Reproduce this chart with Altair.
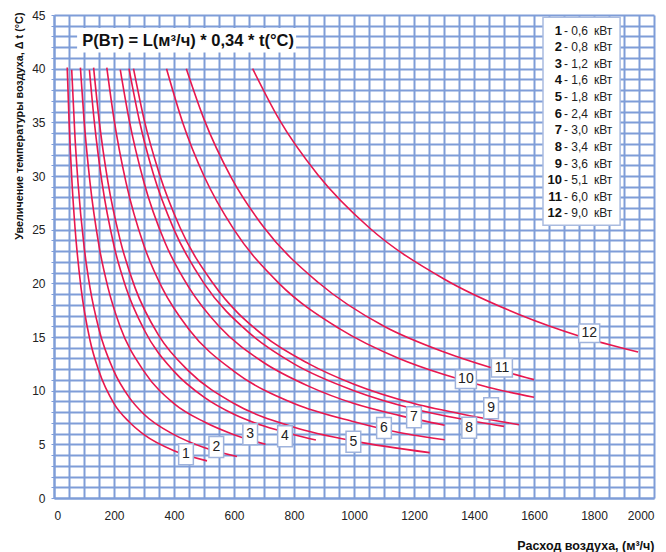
import altair as alt
import pandas as pd

# ---- data ----
curve_ids = [1, 2, 3, 4, 5, 6, 7, 8, 9, 10, 11, 12]
power_kw = ["0,6", "0,8", "1,2", "1,6", "1,8", "2,4", "3,0", "3,4", "3,6", "5,1", "6,0", "9,0"]

# air flow L (m3/h) and temperature rise t (°C)
c1_L = [44, 50, 60, 70, 90, 120, 150, 200, 250, 300, 400, 510]
c1_t = [40.1, 35.3, 29.4, 25.2, 19.6, 14.7, 11.8, 8.8, 7.1, 5.9, 4.4, 3.46]
c2_L = [59, 70, 80, 100, 120, 150, 200, 250, 300, 400, 500, 610]
c2_t = [39.9, 33.6, 29.4, 23.5, 19.6, 15.7, 11.8, 9.4, 7.8, 5.9, 4.7, 3.86]
c3_L = [88, 100, 120, 150, 180, 220, 300, 400, 500, 600, 705]
c3_t = [40.1, 35.3, 29.4, 23.5, 19.6, 16.0, 11.8, 8.8, 7.1, 5.9, 5.0]
c4_L = [118, 135, 160, 200, 240, 300, 400, 500, 600, 700, 800, 873]
c4_t = [39.9, 34.9, 29.4, 23.5, 19.6, 15.7, 11.8, 9.4, 7.8, 6.7, 5.9, 5.4]
c5_L = [132, 150, 180, 220, 270, 350, 450, 600, 800, 1000, 1252]
c5_t = [40.1, 35.3, 29.4, 24.1, 19.6, 15.1, 11.8, 8.8, 6.6, 5.3, 4.23]
c6_L = [176, 200, 240, 300, 360, 450, 600, 800, 1000, 1150, 1302]
c6_t = [40.1, 35.3, 29.4, 23.5, 19.6, 15.7, 11.8, 8.8, 7.1, 6.1, 5.42]
c7_L = [221, 250, 300, 370, 450, 550, 700, 850, 1000, 1150, 1302]
c7_t = [39.9, 35.3, 29.4, 23.8, 19.6, 16.0, 12.6, 10.4, 8.8, 7.7, 6.78]
c8_L = [250, 285, 330, 400, 500, 650, 800, 1000, 1200, 1350, 1500]
c8_t = [40.0, 35.1, 30.3, 25.0, 20.0, 15.4, 12.5, 10.0, 8.3, 7.4, 6.67]
c9_L = [265, 300, 350, 420, 530, 700, 850, 1000, 1200, 1400, 1550]
c9_t = [40.0, 35.3, 30.3, 25.2, 20.0, 15.1, 12.5, 10.6, 8.8, 7.6, 6.83]
c10_L = [375, 430, 500, 600, 750, 950, 1150, 1300, 1450, 1600]
c10_t = [40.0, 34.9, 30.0, 25.0, 20.0, 15.8, 13.0, 11.5, 10.3, 9.38]
c11_L = [441, 500, 590, 700, 880, 1100, 1300, 1450, 1600]
c11_t = [40.0, 35.3, 29.9, 25.2, 20.1, 16.0, 13.6, 12.2, 11.03]
c12_L = [662, 750, 880, 1050, 1300, 1550, 1750, 1947]
c12_t = [40.0, 35.3, 30.1, 25.2, 20.4, 17.1, 15.1, 13.6]

# curve number labels (position on chart, data units)
label_L = [440, 541, 654, 770, 998, 1100, 1200, 1384, 1457, 1373, 1493, 1784]
label_t = [4.07, 4.75, 5.94, 5.75, 5.25, 6.52, 7.52, 6.55, 8.36, 11.06, 12.14, 15.35]

formula_text = "P(Вт) = L(м³/ч) * 0,34 * t(°C)"
x_title = "Расход воздуха, (м³/ч)"
y_title = "Увеличение температуры воздуха,  Δ t (°C)"

# ---- build tables ----
all_L = [c1_L, c2_L, c3_L, c4_L, c5_L, c6_L, c7_L, c8_L, c9_L, c10_L, c11_L, c12_L]
all_t = [c1_t, c2_t, c3_t, c4_t, c5_t, c6_t, c7_t, c8_t, c9_t, c10_t, c11_t, c12_t]
rows = []
for cid, Ls, ts in zip(curve_ids, all_L, all_t):
    for L, t in zip(Ls, ts):
        rows.append({"curve": cid, "L": L, "t": t})
curves_df = pd.DataFrame(rows)

labels_df = pd.DataFrame({
    "curve": [str(c) for c in curve_ids],
    "L": label_L,
    "t": label_t,
    "wide": ["w" if c >= 10 else "n" for c in curve_ids],
})

legend_df = pd.DataFrame({
    "num": [str(c) for c in curve_ids],
    "val": ["- " + p for p in power_kw],
    "unit": ["кВт"] * len(curve_ids),
    "row": list(range(len(curve_ids))),
})
legend_df["ty"] = 43.54 - 1.547 * legend_df["row"]
legend_df["xn"] = 1693
legend_df["xv"] = 1700
legend_df["xu"] = 1800

formula_df = pd.DataFrame({"x": [77], "x2": [807], "y": [43.8], "y2": [41.5],
                           "tx": [447], "ty": [42.6], "txt": [formula_text]})
legbox_df = pd.DataFrame({"x": [1630], "x2": [1887], "y": [44.8], "y2": [25.4]})

GRID = "#7f9dd8"
LINE = "#e8174e"
FONT = "Liberation Sans Narrow, Liberation Sans, Arial, sans-serif"

xs = alt.Scale(domain=[0, 2000], nice=False, zero=False)
ys = alt.Scale(domain=[0, 45], nice=False, zero=False)

x_axis = alt.Axis(
    values=list(range(0, 2001, 50)),
    labelExpr="datum.value % 200 == 0 ? datum.label : ''",
    format="d", labelOverlap=False,
    grid=True, gridColor=GRID, gridWidth=2, gridOpacity=1,
    domainColor=GRID, domainWidth=2,
    ticks=False,
    labelFont=FONT, labelFontSize=12, labelColor="#222", labelPadding=12,
    title=x_title, titleFont=FONT, titleFontSize=12.5, titleFontWeight="bold",
    titleColor="#111", titleAnchor="end", titleAlign="right", titleBaseline="middle",
    titleX=600, titleY=47,
)
y_axis = alt.Axis(
    values=list(range(0, 46)),
    labelExpr="datum.value % 5 == 0 ? datum.label : ''",
    labelOverlap=False,
    grid=True, gridColor=GRID, gridWidth=2, gridOpacity=1,
    domainColor=GRID, domainWidth=2,
    ticks=True, tickColor=GRID, tickSize=3, tickWidth=1,
    labelFont=FONT, labelFontSize=12, labelColor="#222", labelPadding=6,
    title=y_title, titleFont=FONT, titleFontSize=10.8, titleFontWeight="bold",
    titleColor="#111", titleAngle=-90, titleAlign="right", titleBaseline="middle",
    titleX=-35, titleY=-3,
)


def X(f):
    return alt.X(f, scale=xs, axis=x_axis)


def Y(f):
    return alt.Y(f, scale=ys, axis=y_axis)


formula_box = alt.Chart(formula_df).mark_rect(fill="white").encode(
    x=X("x:Q"), x2="x2:Q", y=Y("y:Q"), y2="y2:Q",
)
formula = alt.Chart(formula_df).mark_text(
    font=FONT, fontSize=16.5, fontWeight="bold", color="#111", align="center", baseline="middle"
).encode(x=X("tx:Q"), y=Y("ty:Q"), text="txt:N")

legend_box = alt.Chart(legbox_df).mark_rect(
    fill="white", stroke="#a9bbe0", strokeWidth=1.5
).encode(x=X("x:Q"), x2="x2:Q", y=Y("y:Q"), y2="y2:Q")
leg_num = alt.Chart(legend_df).mark_text(
    font=FONT, fontSize=13, fontWeight="bold", color="#111", align="right", baseline="middle"
).encode(x=X("xn:Q"), y=Y("ty:Q"), text="num:N")
leg_val = alt.Chart(legend_df).mark_text(
    font=FONT, fontSize=12, color="#222", align="left", baseline="middle"
).encode(x=X("xv:Q"), y=Y("ty:Q"), text="val:N")
leg_unit = alt.Chart(legend_df).mark_text(
    font=FONT, fontSize=12, color="#222", align="left", baseline="middle"
).encode(x=X("xu:Q"), y=Y("ty:Q"), text="unit:N")

lines = alt.Chart(curves_df).mark_line(
    interpolate="monotone", color=LINE, strokeWidth=1.6
).encode(x=X("L:Q"), y=Y("t:Q"), detail="curve:N")

boxes = alt.Chart(labels_df).mark_point(
    filled=True, fill="white", stroke="#9fb3dc", strokeWidth=1.5, opacity=1, size=441
).encode(
    x=X("L:Q"), y=Y("t:Q"),
    shape=alt.Shape("wide:N", legend=None, scale=alt.Scale(
        domain=["n", "w"],
        range=["M-0.7,-1L0.7,-1L0.7,1L-0.7,1Z", "M-1,-0.88L1,-0.88L1,0.88L-1,0.88Z"],
    )),
)
box_text = alt.Chart(labels_df).mark_text(
    font=FONT, fontSize=14, color="#222", align="center", baseline="middle"
).encode(x=X("L:Q"), y=Y("t:Q"), text="curve:N")

chart = alt.layer(
    formula_box, formula, legend_box, leg_num, leg_val, leg_unit,
    lines, boxes, box_text,
).properties(
    width=600, height=483,
    padding={"left": 54, "top": 15, "right": 12, "bottom": 54},
    autosize=alt.AutoSizeParams(type="none"),
).configure_view(stroke=None)

chart.save("out.html", embed_options={"renderer": "svg", "actions": False})
